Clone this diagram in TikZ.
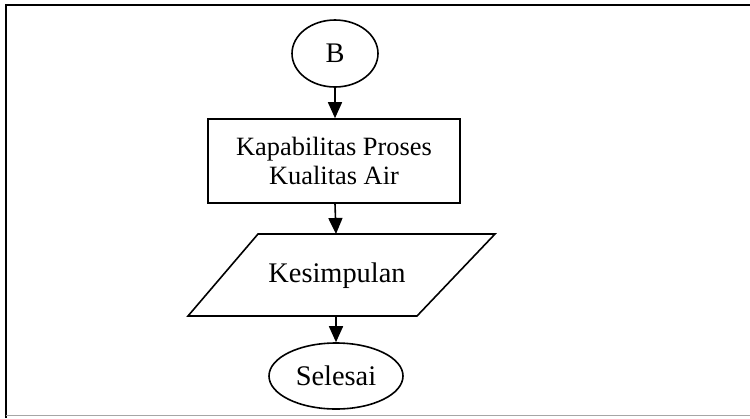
\documentclass[tikz,border=0pt]{standalone}
\usepackage{fontspec}
\setmainfont{Liberation Serif}
\usetikzlibrary{arrows.meta,shapes.geometric}
\begin{document}
\begin{tikzpicture}[x=1bp,y=-1bp,
  line/.style={line width=1.6bp},
  flow/.style={line, -{Triangle[length=16bp,width=14bp]}},
  bigtext/.style={font=\fontsize{28.5}{30}\selectfont},
  boxtext/.style={font=\fontsize{26.5}{30}\selectfont},
  term/.style={draw, line, ellipse, inner sep=0pt, bigtext}]
\useasboundingbox (0,0) rectangle (750,418);
% page frame
\draw[line width=2.4bp] (6,418) -- (6,5) -- (750,5);
\draw[line width=1.5bp, gray!70] (6,415.5) -- (750,415.5);
% connector circle
\node[term, minimum width=86bp, minimum height=67bp] (b) at (335,53.5) {B};
% process box
\node[draw, line, boxtext, align=center, minimum width=252bp, minimum height=84bp, inner sep=0pt] (proc) at (334,161) {Kapabilitas Proses\\Kualitas Air};
% output parallelogram
\draw[line, line join=miter] (258,234) -- (495,234) -- (417,316) -- (188,316) -- cycle;
\coordinate (ptop) at (336,234);
\coordinate (pbot) at (336,316);
\node[bigtext, inner sep=0pt] (out) at (337,276) {Kesimpulan};
% terminator
\node[term, minimum width=134bp, minimum height=66bp] (end) at (336,376) {Selesai};
% connectors
\draw[flow] (b.south) -- (b.south |- proc.north);
\draw[flow] (b.south |- proc.south) -- (ptop);
\draw[flow] (pbot) -- (end.north);
\end{tikzpicture}
\end{document}
